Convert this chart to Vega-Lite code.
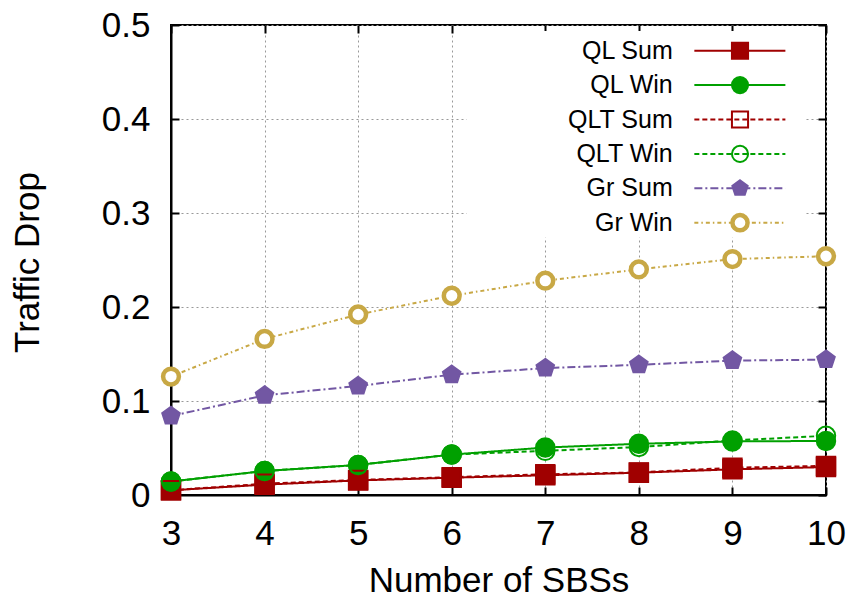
{
  "$schema": "https://vega.github.io/schema/vega-lite/v6.json",
  "width": 655,
  "height": 470,
  "autosize": {"type": "none"},
  "padding": {"left": 171, "top": 25, "right": 28, "bottom": 102},
  "background": "white",
  "config": {
    "font": "Liberation Sans",
    "view": {"stroke": "black", "strokeWidth": 2},
    "axis": {
      "domainColor": "black",
      "domainWidth": 2,
      "tickColor": "black",
      "tickWidth": 2,
      "tickSize": -8,
      "labelFont": "Liberation Sans",
      "labelFontSize": 35,
      "labelColor": "black",
      "labelFlush": false,
      "titleFont": "Liberation Sans",
      "titleFontSize": 35,
      "titleColor": "black",
      "titleFontWeight": "normal",
      "gridColor": "#999999",
      "gridDash": [2, 3],
      "gridWidth": 1
    }
  },
  "datasets": {
    "drops": [
      {"n": 3, "series": "QL Sum", "drop": 0.005},
      {"n": 4, "series": "QL Sum", "drop": 0.011},
      {"n": 5, "series": "QL Sum", "drop": 0.0155},
      {"n": 6, "series": "QL Sum", "drop": 0.0184},
      {"n": 7, "series": "QL Sum", "drop": 0.021},
      {"n": 8, "series": "QL Sum", "drop": 0.0237},
      {"n": 9, "series": "QL Sum", "drop": 0.0273},
      {"n": 10, "series": "QL Sum", "drop": 0.0297},
      {"n": 3, "series": "QL Win", "drop": 0.0144},
      {"n": 4, "series": "QL Win", "drop": 0.0255},
      {"n": 5, "series": "QL Win", "drop": 0.032},
      {"n": 6, "series": "QL Win", "drop": 0.043},
      {"n": 7, "series": "QL Win", "drop": 0.0505},
      {"n": 8, "series": "QL Win", "drop": 0.0545},
      {"n": 9, "series": "QL Win", "drop": 0.057},
      {"n": 10, "series": "QL Win", "drop": 0.0575},
      {"n": 3, "series": "QLT Sum", "drop": 0.005},
      {"n": 4, "series": "QLT Sum", "drop": 0.012},
      {"n": 5, "series": "QLT Sum", "drop": 0.016},
      {"n": 6, "series": "QLT Sum", "drop": 0.019},
      {"n": 7, "series": "QLT Sum", "drop": 0.022},
      {"n": 8, "series": "QLT Sum", "drop": 0.024},
      {"n": 9, "series": "QLT Sum", "drop": 0.029},
      {"n": 10, "series": "QLT Sum", "drop": 0.031},
      {"n": 3, "series": "QLT Win", "drop": 0.0144},
      {"n": 4, "series": "QLT Win", "drop": 0.0255},
      {"n": 5, "series": "QLT Win", "drop": 0.032},
      {"n": 6, "series": "QLT Win", "drop": 0.043},
      {"n": 7, "series": "QLT Win", "drop": 0.047},
      {"n": 8, "series": "QLT Win", "drop": 0.051},
      {"n": 9, "series": "QLT Win", "drop": 0.058},
      {"n": 10, "series": "QLT Win", "drop": 0.063},
      {"n": 3, "series": "Gr Sum", "drop": 0.084},
      {"n": 4, "series": "Gr Sum", "drop": 0.106},
      {"n": 5, "series": "Gr Sum", "drop": 0.116},
      {"n": 6, "series": "Gr Sum", "drop": 0.128},
      {"n": 7, "series": "Gr Sum", "drop": 0.135},
      {"n": 8, "series": "Gr Sum", "drop": 0.1385},
      {"n": 9, "series": "Gr Sum", "drop": 0.143},
      {"n": 10, "series": "Gr Sum", "drop": 0.144},
      {"n": 3, "series": "Gr Win", "drop": 0.126},
      {"n": 4, "series": "Gr Win", "drop": 0.166},
      {"n": 5, "series": "Gr Win", "drop": 0.192},
      {"n": 6, "series": "Gr Win", "drop": 0.212},
      {"n": 7, "series": "Gr Win", "drop": 0.228},
      {"n": 8, "series": "Gr Win", "drop": 0.24},
      {"n": 9, "series": "Gr Win", "drop": 0.251},
      {"n": 10, "series": "Gr Win", "drop": 0.254}
    ],
    "keys": [
      {"series": "QL Sum"},
      {"series": "QL Win"},
      {"series": "QLT Sum"},
      {"series": "QLT Win"},
      {"series": "Gr Sum"},
      {"series": "Gr Win"}
    ]
  },
  "resolve": {
    "scale": {"y": "independent"},
    "axis": {"x": "independent", "y": "independent"}
  },
  "layer": [
    {
      "resolve": {"axis": {"x": "independent", "y": "independent"}},
      "layer": [
        {
          "data": {"values": [{}]},
          "mark": {"type": "rect", "fill": "white"},
          "encoding": {
            "x": {"datum": 6.16, "type": "quantitative", "scale": {"domain": [3, 10], "nice": false}, "axis": null},
            "x2": {"datum": 9.78},
            "y": {"datum": 0.4936, "type": "quantitative", "scale": {"domain": [0, 0.5], "nice": false}, "axis": null},
            "y2": {"datum": 0.274}
          }
        },
        {
          "data": {"name": "drops"},
          "mark": {"type": "line", "strokeWidth": 2},
          "encoding": {
            "x": {
              "field": "n", "type": "quantitative",
              "scale": {"domain": [3, 10], "nice": false},
              "axis": {"orient": "top", "values": [3, 4, 5, 6, 7, 8, 9, 10], "labels": false, "domain": false, "grid": false, "title": null}
            },
            "y": {
              "field": "drop", "type": "quantitative",
              "scale": {"domain": [0, 0.5], "nice": false},
              "axis": {"orient": "right", "values": [0, 0.1, 0.2, 0.3, 0.4, 0.5], "labels": false, "domain": false, "grid": false, "title": null}
            },
            "detail": {"field": "series"},
            "order": {"field": "n"},
            "stroke": {
              "field": "series", "type": "nominal", "legend": null,
              "scale": {"domain": ["QL Sum", "QL Win", "QLT Sum", "QLT Win", "Gr Sum", "Gr Win"], "range": ["#a00000", "#00a000", "#a00000", "#00a000", "#7257a3", "#c8a845"]}
            },
            "strokeDash": {
              "field": "series", "type": "nominal", "legend": null,
              "scale": {"domain": ["QL Sum", "QL Win", "QLT Sum", "QLT Win", "Gr Sum", "Gr Win"], "range": [[1, 0], [1, 0], [5, 3], [5, 3], [8, 3, 2, 3], [4, 3, 1.5, 3]]}
            }
          }
        },
        {
          "data": {"name": "drops"},
          "mark": {"type": "point", "filled": true, "opacity": 1, "size": 340},
          "encoding": {
            "x": {
              "field": "n", "type": "quantitative",
              "scale": {"domain": [3, 10], "nice": false},
              "axis": {"orient": "bottom", "values": [3, 4, 5, 6, 7, 8, 9, 10], "format": "d", "grid": true, "labelPadding": 29, "title": "Number of SBSs", "titleY": 96, "titleBaseline": "alphabetic"}
            },
            "y": {
              "field": "drop", "type": "quantitative",
              "scale": {"domain": [0, 0.5], "nice": false},
              "axis": {"orient": "left", "values": [0, 0.1, 0.2, 0.3, 0.4, 0.5], "format": ".1~f", "grid": true, "labelPadding": 29, "title": "Traffic Drop", "titleX": -133, "titleY": 237, "titleBaseline": "alphabetic", "titleAlign": "center"}
            },
            "shape": {
              "field": "series", "type": "nominal", "legend": null,
              "scale": {"domain": ["QL Sum", "QL Win", "QLT Sum", "QLT Win", "Gr Sum", "Gr Win"], "range": ["square", "circle", "square", "circle", "M0,-1L0.951,-0.309L0.588,0.809L-0.588,0.809L-0.951,-0.309Z", "circle"]}
            },
            "fill": {
              "field": "series", "type": "nominal", "legend": null,
              "scale": {"domain": ["QL Sum", "QL Win", "QLT Sum", "QLT Win", "Gr Sum", "Gr Win"], "range": ["#a00000", "#00a000", "transparent", "transparent", "#7257a3", "#ffffff"]}
            },
            "stroke": {
              "field": "series", "type": "nominal", "legend": null,
              "scale": {"domain": ["QL Sum", "QL Win", "QLT Sum", "QLT Win", "Gr Sum", "Gr Win"], "range": ["#a00000", "#00a000", "#a00000", "#00a000", "#7257a3", "#c8a845"]}
            },
            "strokeWidth": {"condition": {"test": "datum.series === 'Gr Win'", "value": 4.5}, "value": 2},
            "size": {"condition": {"test": "datum.series === 'Gr Win'", "value": 250}, "value": 340}
          }
        }
      ]
    },
    {
      "data": {"name": "keys"},
      "encoding": {
        "y": {
          "field": "series", "type": "nominal", "axis": null,
          "scale": {"type": "point", "domain": ["QL Sum", "QL Win", "QLT Sum", "QLT Win", "Gr Sum", "Gr Win"], "range": [25.7, 197.7], "padding": 0}
        }
      },
      "layer": [
        {
          "mark": {"type": "rule", "strokeWidth": 2},
          "encoding": {
            "x": {"datum": 8.593, "type": "quantitative", "axis": null},
            "x2": {"datum": 9.566},
            "stroke": {
              "field": "series", "type": "nominal", "legend": null,
              "scale": {"domain": ["QL Sum", "QL Win", "QLT Sum", "QLT Win", "Gr Sum", "Gr Win"], "range": ["#a00000", "#00a000", "#a00000", "#00a000", "#7257a3", "#c8a845"]}
            },
            "strokeDash": {
              "field": "series", "type": "nominal", "legend": null,
              "scale": {"domain": ["QL Sum", "QL Win", "QLT Sum", "QLT Win", "Gr Sum", "Gr Win"], "range": [[1, 0], [1, 0], [5, 3], [5, 3], [8, 3, 2, 3], [4, 3, 1.5, 3]]}
            }
          }
        },
        {
          "mark": {"type": "point", "filled": true, "opacity": 1},
          "encoding": {
            "x": {"datum": 9.081, "type": "quantitative", "axis": null},
            "shape": {
              "field": "series", "type": "nominal", "legend": null,
              "scale": {"domain": ["QL Sum", "QL Win", "QLT Sum", "QLT Win", "Gr Sum", "Gr Win"], "range": ["square", "circle", "square", "circle", "M0,-1L0.951,-0.309L0.588,0.809L-0.588,0.809L-0.951,-0.309Z", "circle"]}
            },
            "fill": {
              "field": "series", "type": "nominal", "legend": null,
              "scale": {"domain": ["QL Sum", "QL Win", "QLT Sum", "QLT Win", "Gr Sum", "Gr Win"], "range": ["#a00000", "#00a000", "transparent", "transparent", "#7257a3", "#ffffff"]}
            },
            "stroke": {
              "field": "series", "type": "nominal", "legend": null,
              "scale": {"domain": ["QL Sum", "QL Win", "QLT Sum", "QLT Win", "Gr Sum", "Gr Win"], "range": ["#a00000", "#00a000", "#a00000", "#00a000", "#7257a3", "#c8a845"]}
            },
            "strokeWidth": {"condition": {"test": "datum.series === 'Gr Win'", "value": 4.5}, "value": 2},
            "size": {"condition": {"test": "datum.series === 'Gr Win'", "value": 230}, "value": 260}
          }
        },
        {
          "mark": {"type": "text", "align": "right", "baseline": "middle", "fontSize": 25, "font": "Liberation Sans", "color": "black"},
          "encoding": {
            "x": {"datum": 8.362, "type": "quantitative", "axis": null},
            "text": {"field": "series"}
          }
        }
      ]
    }
  ]
}
